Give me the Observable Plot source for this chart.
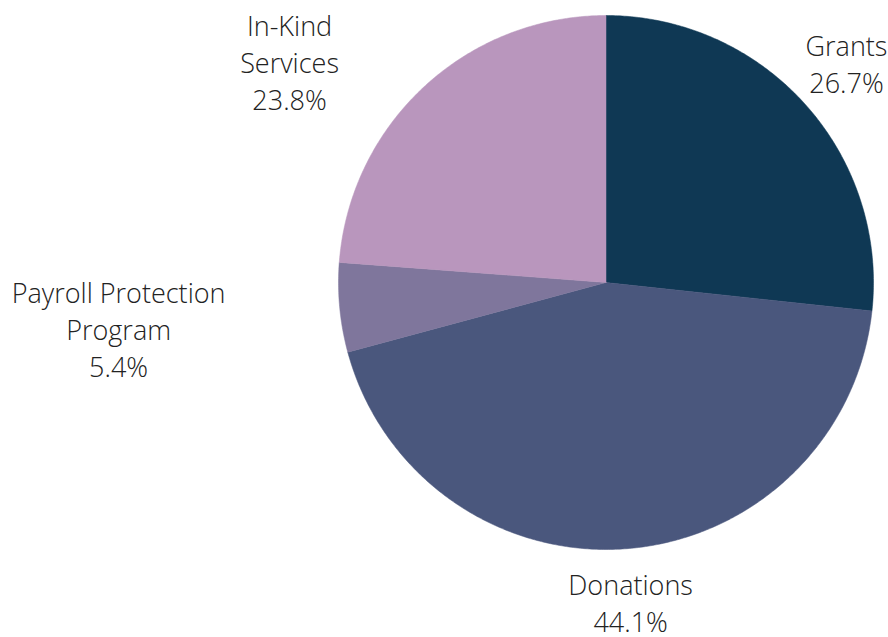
<!DOCTYPE html>
<html>
<head>
<meta charset="utf-8">
<script src="https://cdn.jsdelivr.net/npm/d3@7"></script>
<script src="https://cdn.jsdelivr.net/npm/@observablehq/plot@0.6"></script>
<style>
  html, body { margin: 0; padding: 0; background: #fff; }
  #chart { width: 888px; height: 637px; }
</style>
</head>
<body>
<div id="chart"></div>
<script>
// Data
const categories = ["Grants", "Donations", "Payroll Protection Program", "In-Kind Services"];
const labels = ["Grants", "Donations", "Payroll Protection\nProgram", "In-Kind\nServices"];
const shares = [26.7, 44.1, 5.4, 23.8];
const colors = ["#0f3854", "#4a577d", "#7f769c", "#b996bd"];

// Layout (label anchor positions in pie units, radius = 1)
const labelPos = [[0.899, 0.824], [0.092, -1.197], [-1.822, -0.172], [-1.183, 0.830]];

const total = d3.sum(shares);
const slices = [];
let acc = 0;
categories.forEach((c, i) => {
  const a0 = acc / total * 2 * Math.PI;
  acc += shares[i];
  const a1 = acc / total * 2 * Math.PI;
  const n = Math.max(2, Math.ceil((a1 - a0) / (Math.PI / 360)));
  slices.push({name: c, x: 0, y: 0});
  for (let k = 0; k <= n; k++) {
    const a = a0 + (a1 - a0) * k / n;
    slices.push({name: c, x: Math.sin(a), y: Math.cos(a)});
  }
  slices.push({name: c, x: 0, y: 0});
});

const labelData = categories.map((c, i) => ({
  name: c,
  text: labels[i] + "\n" + shares[i].toFixed(1) + "%",
  x: labelPos[i][0],
  y: labelPos[i][1]
}));

const plot = Plot.plot({
  width: 888,
  height: 637,
  marginLeft: 338,
  marginRight: 15,
  marginTop: 15,
  marginBottom: 88,
  x: {domain: [-1, 1], axis: null},
  y: {domain: [-1, 1], axis: null},
  color: {domain: categories, range: colors},
  style: {background: "#fff", fontFamily: "'Open Sans', sans-serif", overflow: "visible"},
  marks: [
    Plot.line(slices, {x: "x", y: "y", z: "name", fill: "name", stroke: "name", strokeWidth: 0.5, curve: "linear"}),
    Plot.text(labelData, {
      x: "x", y: "y", text: "text",
      fontSize: 27, fontWeight: 300, fill: "#222",
      lineAnchor: "middle", lineHeight: 1.37, textAnchor: "middle"
    })
  ]
});
document.getElementById("chart").appendChild(plot);
</script>
</body>
</html>
